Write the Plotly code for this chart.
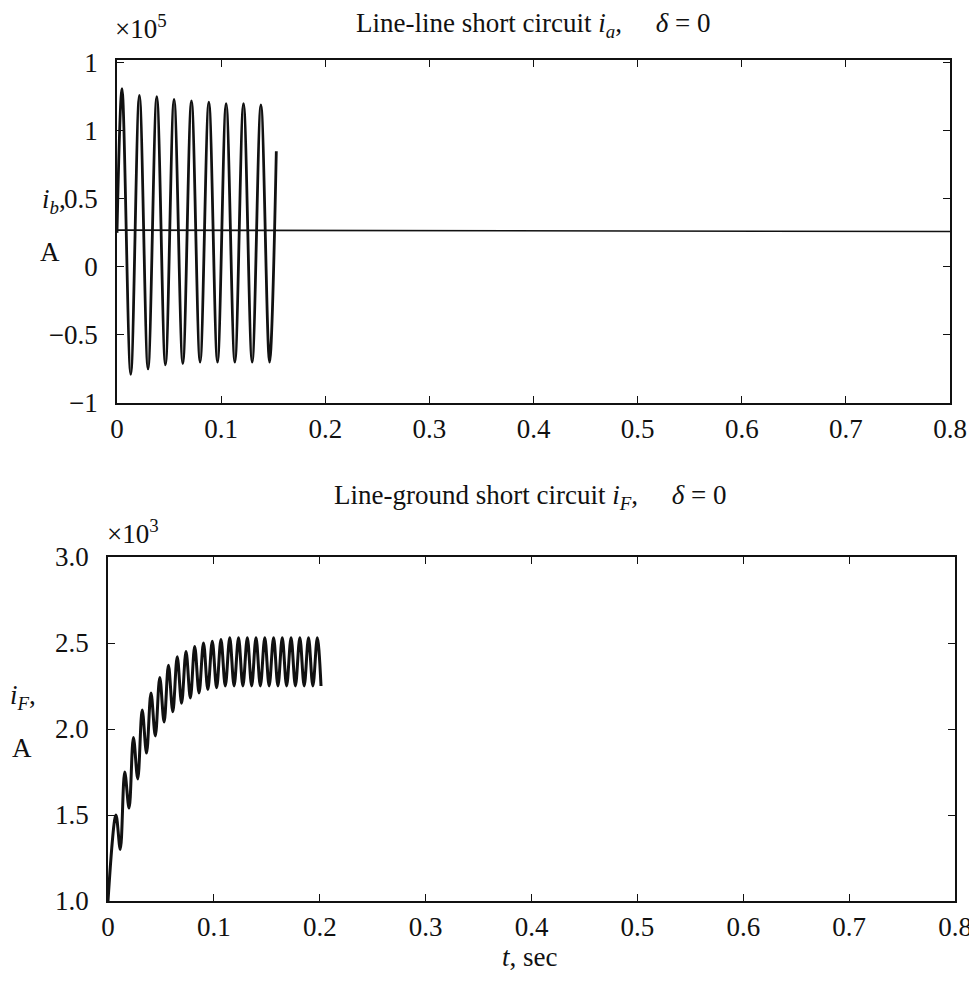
"""Line-line and line-ground short circuit currents, two stacked panels."""

import plotly.graph_objects as go

FONT = "Liberation Serif"
BLACK = "#111111"

# --- top panel: line-line fault, units of 1e5 A -------------------------
ll_start = (0.0, 0.25)
ll_peak_t = [0.0048, 0.0215, 0.0382, 0.0548, 0.0715, 0.0882, 0.1048, 0.1215, 0.1382]
ll_peak_v = [1.31, 1.26, 1.25, 1.23, 1.22, 1.21, 1.20, 1.20, 1.19]
ll_trough_t = [0.0132, 0.0298, 0.0465, 0.0632, 0.0798, 0.0965, 0.1132, 0.1298, 0.1465]
ll_trough_v = [-0.79, -0.75, -0.72, -0.71, -0.70, -0.70, -0.70, -0.70, -0.70]
ll_end = (0.153, 0.85)

ia_t = [0.0, 0.8]
ia_v = [0.27, 0.26]

top_xticks = [0, 0.1, 0.2, 0.3, 0.4, 0.5, 0.6, 0.7, 0.8]
top_xlabels = ["0", "0.1", "0.2", "0.3", "0.4", "0.5", "0.6", "0.7", "0.8"]
top_yticks = [-1, -0.5, 0, 0.5, 1, 1.5]
top_ylabels = ["\u22121", "\u22120.5", "0", "0.5", "1", "1"]

# --- bottom panel: line-ground fault, units of 1e3 A ---------------------
lg_start = (0.0, 1.0)
lg_peak_t = [0.0075, 0.0158, 0.0240, 0.0323, 0.0406, 0.0489, 0.0571, 0.0654,
             0.0737, 0.0819, 0.0902, 0.0985, 0.1067, 0.1150, 0.1233, 0.1316,
             0.1398, 0.1481, 0.1564, 0.1646, 0.1729, 0.1812, 0.1894, 0.1977]
lg_peak_v = [1.50, 1.75, 1.95, 2.11, 2.21, 2.30, 2.37, 2.42,
             2.45, 2.48, 2.50, 2.51, 2.52, 2.53, 2.53, 2.53,
             2.53, 2.53, 2.53, 2.53, 2.53, 2.53, 2.53, 2.53]
lg_trough_t = [0.0116, 0.0199, 0.0281, 0.0364, 0.0447, 0.0530, 0.0612, 0.0695,
               0.0778, 0.0860, 0.0943, 0.1026, 0.1108, 0.1191, 0.1274, 0.1357,
               0.1439, 0.1522, 0.1605, 0.1687, 0.1770, 0.1853, 0.1935]
lg_trough_v = [1.30, 1.54, 1.71, 1.86, 1.96, 2.04, 2.10, 2.15,
               2.18, 2.21, 2.23, 2.24, 2.25, 2.25, 2.25, 2.25,
               2.25, 2.25, 2.25, 2.25, 2.25, 2.25, 2.25]
lg_end = (0.2012, 2.25)

bot_xticks = top_xticks
bot_xlabels = top_xlabels
bot_yticks = [1.0, 1.5, 2.0, 2.5, 3.0]
bot_ylabels = ["1.0", "1.5", "2.0", "2.5", "3.0"]


def weave(start, pt, pv, tt, tv, end):
    """Interleave peaks and troughs into one polyline."""
    xs, ys = [start[0]], [start[1]]
    for i in range(len(pt)):
        xs.append(pt[i]); ys.append(pv[i])
        if i < len(tt):
            xs.append(tt[i]); ys.append(tv[i])
    xs.append(end[0]); ys.append(end[1])
    return xs, ys


PAGE_PAD = 8  # the html body margin shifts the figure by this much
W, H = 977 - PAGE_PAD, 987 - 2 * PAGE_PAD


def px_x(p):
    return (p - PAGE_PAD) / W


def px_y(p):
    return 1 - (p - PAGE_PAD) / H


fig = go.Figure()

x1, y1 = weave(ll_start, ll_peak_t, ll_peak_v, ll_trough_t, ll_trough_v, ll_end)
fig.add_trace(go.Scatter(x=x1, y=y1, mode="lines", xaxis="x", yaxis="y",
                         line=dict(color=BLACK, width=2.8, shape="spline", smoothing=1.0)))
fig.add_trace(go.Scatter(x=ia_t, y=ia_v, mode="lines", xaxis="x", yaxis="y",
                         line=dict(color=BLACK, width=1.6)))

x2, y2 = weave(lg_start, lg_peak_t, lg_peak_v, lg_trough_t, lg_trough_v, lg_end)
fig.add_trace(go.Scatter(x=x2, y=y2, mode="lines", xaxis="x2", yaxis="y2",
                         line=dict(color=BLACK, width=3.0, shape="spline", smoothing=1.0)))

axis_common = dict(
    showline=True, linecolor=BLACK, linewidth=1.8, mirror="ticks",
    ticks="inside", ticklen=7, tickwidth=1.4, tickcolor=BLACK,
    showgrid=False, zeroline=False, automargin=False,
    ticklabeloverflow="allow",
    tickfont=dict(family=FONT, size=27, color=BLACK),
)
xstyle = dict(axis_common, ticklabelstandoff=1)
ystyle = dict(axis_common, ticklabelstandoff=12)

fig.update_layout(
    width=W, height=H,
    template="none",
    paper_bgcolor="white", plot_bgcolor="white",
    showlegend=False,
    margin=dict(l=0, r=0, t=0, b=0, autoexpand=False),
    font=dict(family=FONT, color=BLACK),
    xaxis=dict(domain=[px_x(117), px_x(950)], range=[0, 0.8],
               tickvals=top_xticks, ticktext=top_xlabels, anchor="y", **xstyle),
    yaxis=dict(domain=[px_y(403), px_y(60)], range=[-1, 1.52],
               tickvals=top_yticks, ticktext=top_ylabels, anchor="x", **ystyle),
    xaxis2=dict(domain=[px_x(108), px_x(955)], range=[0, 0.8],
                tickvals=bot_xticks, ticktext=bot_xlabels, anchor="y2", **xstyle),
    yaxis2=dict(domain=[px_y(901), px_y(557)], range=[1.0, 3.0],
                tickvals=bot_yticks, ticktext=bot_ylabels, anchor="x2", **ystyle),
)

txt = dict(family=FONT, size=27, color=BLACK)
notes = [
    (px_x(533), px_y(25), "Line-line short circuit <i>i</i><sub><i>a</i></sub>,&nbsp;&nbsp;&nbsp;&nbsp;&nbsp;<i>δ</i> = 0", "center"),
    (px_x(113), px_y(27), "×10<sup>5</sup>", "left"),
    (px_x(68), px_y(201), "<i>i</i><sub><i>b</i></sub>,", "right"),
    (px_x(38), px_y(252), "A", "left"),
    (px_x(530), px_y(497), "Line-ground short circuit <i>i</i><sub><i>F</i></sub>,&nbsp;&nbsp;&nbsp;&nbsp;&nbsp;<i>δ</i> = 0", "center"),
    (px_x(105), px_y(532), "×10<sup>3</sup>", "left"),
    (px_x(8), px_y(697), "<i>i</i><sub><i>F</i></sub>,", "left"),
    (px_x(10), px_y(748), "A", "left"),
    (px_x(530), px_y(957), "<i>t</i>, sec", "center"),
]
for x, y, text, anchor in notes:
    fig.add_annotation(x=x, y=y, xref="paper", yref="paper", text=text,
                       showarrow=False, xanchor=anchor, yanchor="middle", font=txt)

fig.write_html("out.html")
